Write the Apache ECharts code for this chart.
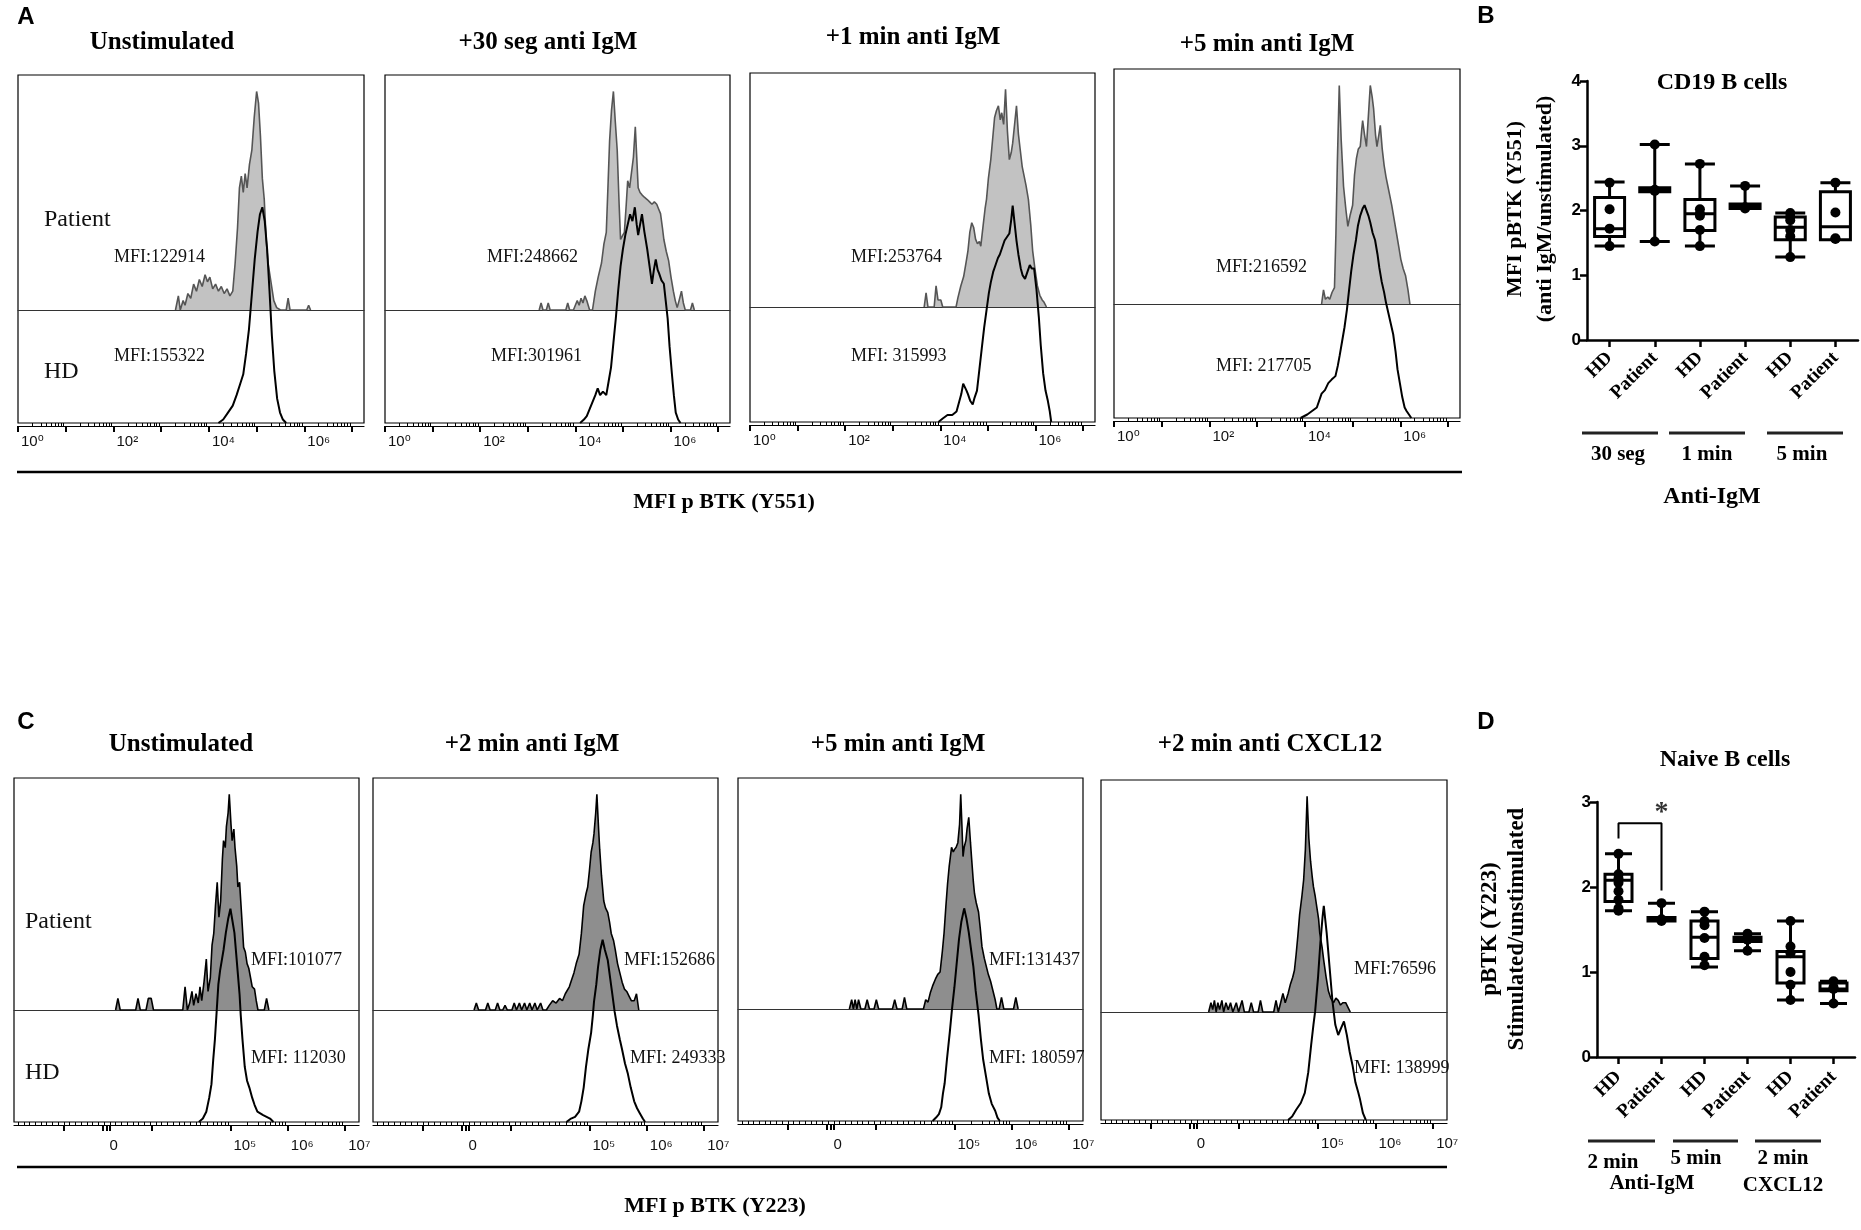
<!DOCTYPE html>
<html><head><meta charset="utf-8">
<script src="https://cdn.jsdelivr.net/npm/echarts@6/dist/echarts.min.js"></script>
<style>html,body{margin:0;padding:0;background:#fff}#c{width:1861px;height:1230px}</style>
</head><body><div id="c"></div>
<script>
// ---------------- DATA ----------------
// Panel A histograms: x = log10(MFI p BTK Y551), y = relative count (% of panel height)
const a1Patient=[[3.30,0],[3.36,6],[3.40,0],[3.46,4],[3.50,2],[3.56,7],[3.62,5],[3.68,11],[3.74,8],[3.80,13],[3.86,10],[3.92,15],[3.97,12],[4.02,14],[4.08,9],[4.14,11],[4.20,8],[4.26,10],[4.32,7],[4.38,9],[4.44,6],[4.50,8],[4.55,20],[4.60,35],[4.64,52],[4.68,57],[4.72,50],[4.76,58],[4.80,52],[4.85,62],[4.90,68],[4.95,82],[5.00,93],[5.04,88],[5.08,74],[5.12,56],[5.16,47],[5.20,30],[5.24,20],[5.30,12],[5.36,4],[5.42,1],[5.50,0],[5.62,0],[5.66,5],[5.70,0],[6.05,0],[6.09,2],[6.13,0]];
const a1HD=[[4.20,0],[4.30,1],[4.40,3],[4.50,5],[4.58,8],[4.65,11],[4.72,14],[4.78,20],[4.84,27],[4.90,37],[4.96,47],[5.02,55],[5.07,60],[5.12,62],[5.17,58],[5.22,50],[5.27,38],[5.32,25],[5.37,15],[5.43,7],[5.49,3],[5.55,1],[5.62,0]];
const a2Patient=[[3.24,0],[3.28,3],[3.32,0],[3.39,0],[3.43,3],[3.47,0],[3.80,0],[3.84,3],[3.88,0],[3.96,0],[4.00,2],[4.04,4],[4.08,2],[4.12,5],[4.16,3],[4.20,6],[4.24,4],[4.30,0],[4.36,0],[4.42,8],[4.48,14],[4.55,20],[4.60,28],[4.65,33],[4.69,55],[4.72,72],[4.76,85],[4.80,93],[4.84,80],[4.88,68],[4.92,45],[4.95,30],[5.00,32],[5.03,33],[5.07,45],[5.10,55],[5.14,52],[5.18,52],[5.22,65],[5.26,78],[5.29,65],[5.32,52],[5.36,50],[5.40,49],[5.45,48],[5.51,47],[5.56,46],[5.61,45],[5.66,46],[5.71,45],[5.75,43],[5.79,41],[5.83,35],[5.86,30],[5.91,25],[5.96,21],[6.01,14],[6.06,8],[6.10,4],[6.14,1],[6.18,4],[6.23,8],[6.27,3],[6.31,0],[6.42,0],[6.46,3],[6.50,0]];
const a2HD=[[4.10,0],[4.18,1],[4.24,2],[4.30,4],[4.36,6],[4.42,8],[4.47,10],[4.52,8],[4.58,9],[4.65,8],[4.70,12],[4.75,16],[4.80,23],[4.85,30],[4.90,38],[4.95,45],[5.00,50],[5.05,54],[5.10,57],[5.15,60],[5.20,58],[5.25,62],[5.29,57],[5.32,54],[5.36,57],[5.40,60],[5.45,55],[5.51,50],[5.56,45],[5.61,40],[5.65,44],[5.69,47],[5.73,44],[5.76,43],[5.81,41],[5.86,40],[5.90,35],[5.94,30],[5.98,22],[6.03,14],[6.07,8],[6.11,3],[6.16,1],[6.21,0]];
const a3Patient=[[3.66,0],[3.70,6],[3.74,0],[3.87,0],[3.91,9],[3.95,3],[4.01,3],[4.05,0],[4.33,0],[4.37,4],[4.43,9],[4.49,13],[4.54,19],[4.58,24],[4.62,32],[4.66,36],[4.70,34],[4.74,29],[4.78,27],[4.82,28],[4.85,26],[4.90,35],[4.94,42],[4.97,46],[5.01,55],[5.06,63],[5.10,72],[5.14,81],[5.18,84],[5.22,86],[5.26,80],[5.29,83],[5.33,78],[5.37,93],[5.41,75],[5.45,63],[5.49,66],[5.52,70],[5.56,78],[5.60,86],[5.64,74],[5.68,67],[5.72,60],[5.75,57],[5.80,52],[5.85,46],[5.90,35],[5.94,24],[5.99,16],[6.04,9],[6.09,5],[6.14,3],[6.18,2],[6.23,0]];
const a3HD=[[3.96,0],[4.05,1],[4.15,2],[4.25,2],[4.34,3],[4.40,6],[4.44,8],[4.48,11],[4.51,11],[4.55,9],[4.58,8],[4.63,6],[4.68,5],[4.72,7],[4.77,9],[4.82,15],[4.87,21],[4.92,27],[4.97,32],[5.02,37],[5.06,40],[5.11,43],[5.16,45],[5.21,47],[5.25,48],[5.30,50],[5.35,52],[5.40,53],[5.45,54],[5.49,58],[5.52,62],[5.56,57],[5.60,52],[5.64,48],[5.69,44],[5.73,42],[5.78,41],[5.83,43],[5.88,45],[5.92,44],[5.97,44],[6.02,38],[6.07,30],[6.11,22],[6.16,14],[6.21,9],[6.26,6],[6.30,3],[6.33,0]];
const a4Patient=[[4.35,0],[4.39,6],[4.43,2],[4.48,3],[4.52,2],[4.57,5],[4.62,7],[4.65,30],[4.68,60],[4.72,93],[4.76,70],[4.81,50],[4.86,40],[4.90,33],[4.95,38],[5.00,42],[5.04,55],[5.08,62],[5.12,66],[5.16,67],[5.19,74],[5.21,78],[5.25,72],[5.29,67],[5.33,80],[5.37,93],[5.41,88],[5.44,83],[5.48,72],[5.51,67],[5.55,72],[5.58,76],[5.62,66],[5.66,59],[5.70,54],[5.74,50],[5.78,46],[5.82,42],[5.87,36],[5.92,30],[5.97,24],[6.01,19],[6.06,15],[6.11,12],[6.16,6],[6.20,0]];
const a4HD=[[3.91,0],[4.05,1],[4.15,2],[4.25,3],[4.35,7],[4.42,8],[4.49,10],[4.56,11],[4.64,12],[4.69,15],[4.73,18],[4.78,22],[4.83,26],[4.88,31],[4.92,36],[4.97,42],[5.02,47],[5.07,51],[5.11,55],[5.16,58],[5.21,60],[5.25,61],[5.29,61],[5.33,58],[5.37,56],[5.42,53],[5.47,51],[5.52,47],[5.56,43],[5.61,39],[5.66,36],[5.70,33],[5.75,30],[5.80,27],[5.85,24],[5.90,19],[5.94,14],[5.99,10],[6.04,6],[6.09,3],[6.13,2],[6.18,1],[6.23,0]];
// Panel C histograms: x = biexponential display units (decades), y = relative count
const c1Patient=[[3.00,0],[3.04,5],[3.08,0],[3.35,0],[3.39,5],[3.43,0],[3.53,0],[3.57,5],[3.62,5],[3.66,0],[4.17,0],[4.21,10],[4.25,0],[4.29,3],[4.33,8],[4.36,2],[4.40,7],[4.44,3],[4.47,10],[4.50,4],[4.54,12],[4.58,22],[4.61,8],[4.65,14],[4.68,28],[4.71,33],[4.74,45],[4.77,55],[4.80,40],[4.83,47],[4.86,65],[4.88,73],[4.91,70],[4.93,79],[4.96,85],[4.98,93],[5.01,80],[5.03,73],[5.06,78],[5.08,70],[5.11,62],[5.13,53],[5.16,55],[5.18,47],[5.21,35],[5.23,27],[5.26,25],[5.29,20],[5.32,18],[5.35,14],[5.38,10],[5.42,9],[5.45,4],[5.48,0],[5.59,0],[5.63,5],[5.67,0]];
const c1HD=[[4.45,0],[4.52,1],[4.58,3],[4.63,7],[4.67,11],[4.70,18],[4.73,24],[4.76,32],[4.79,40],[4.82,44],[4.85,47],[4.88,50],[4.92,55],[4.96,59],[5.00,62],[5.04,58],[5.07,55],[5.10,49],[5.13,43],[5.16,37],[5.18,31],[5.21,24],[5.25,16],[5.29,12],[5.33,10],[5.38,7],[5.42,5],[5.47,3],[5.52,2.5],[5.57,2],[5.63,1.5],[5.69,1],[5.75,0]];
const c2Patient=[[2.99,0],[3.03,3],[3.07,0],[3.19,0],[3.23,3],[3.27,0],[3.36,0],[3.40,3],[3.44,0],[3.49,0],[3.53,2],[3.57,0],[3.65,0],[3.69,3],[3.73,0],[3.78,3],[3.82,0],[3.87,3],[3.91,0],[3.96,3],[4.00,0],[4.05,3],[4.09,0],[4.15,3],[4.19,0],[4.25,0],[4.30,2],[4.36,4],[4.42,3],[4.48,5],[4.53,4],[4.58,7],[4.65,10],[4.69,13],[4.73,16],[4.77,20],[4.82,24],[4.86,33],[4.90,45],[4.94,50],[4.97,53],[5.00,60],[5.03,68],[5.06,72],[5.08,76],[5.11,85],[5.13,93],[5.16,78],[5.18,69],[5.21,58],[5.25,47],[5.28,44],[5.32,42],[5.35,38],[5.38,33],[5.42,30],[5.45,26],[5.49,20],[5.53,16],[5.57,12],[5.61,9],[5.65,8],[5.69,6],[5.73,4],[5.78,4],[5.82,7],[5.86,0]];
const c2HD=[[4.60,0],[4.68,1],[4.75,1.5],[4.82,3],[4.86,6],[4.90,10],[4.94,16],[4.98,21],[5.03,26],[5.06,31],[5.08,35],[5.12,40],[5.15,45],[5.19,50],[5.23,53],[5.27,50],[5.32,47],[5.36,42],[5.40,37],[5.44,32],[5.48,28],[5.53,24],[5.57,21],[5.62,17],[5.67,14],[5.72,10],[5.78,6],[5.83,4],[5.88,2.5],[5.93,1],[5.97,0]];
const c3Patient=[[3.17,0],[3.21,4],[3.24,0],[3.27,4],[3.30,0],[3.33,4],[3.37,0],[3.44,0],[3.48,4],[3.52,0],[3.60,0],[3.64,4],[3.68,0],[3.92,0],[3.96,4],[4.00,0],[4.09,0],[4.13,5],[4.17,0],[4.46,0],[4.50,4],[4.54,3],[4.58,7],[4.62,10],[4.67,13],[4.71,15],[4.75,16],[4.79,25],[4.82,33],[4.85,44],[4.88,54],[4.91,62],[4.95,70],[4.98,68],[5.00,69],[5.03,70],[5.06,72],[5.09,80],[5.11,93],[5.13,80],[5.15,66],[5.17,70],[5.20,73],[5.22,78],[5.25,83],[5.28,72],[5.30,65],[5.33,55],[5.35,50],[5.38,46],[5.42,42],[5.45,35],[5.48,27],[5.52,22],[5.55,19],[5.59,15],[5.63,12],[5.67,8],[5.71,4],[5.74,0],[5.78,0],[5.82,5],[5.86,0],[6.03,0],[6.07,5],[6.11,0]];
const c3HD=[[4.62,0],[4.68,1],[4.73,2],[4.77,4],[4.80,8],[4.83,11],[4.87,18],[4.92,26],[4.96,33],[5.00,39],[5.04,46],[5.08,53],[5.12,58],[5.17,62],[5.21,59],[5.25,55],[5.29,50],[5.33,45],[5.37,38],[5.42,31],[5.46,24],[5.50,18],[5.55,13],[5.60,8],[5.65,5],[5.71,3],[5.75,1],[5.79,0]];
const c4Patient=[[3.10,0],[3.14,4],[3.17,1],[3.20,5],[3.23,0],[3.26,4],[3.29,1],[3.33,5],[3.36,0],[3.40,4],[3.44,1],[3.48,4],[3.52,0],[3.58,4],[3.62,0],[3.68,5],[3.72,0],[3.80,0],[3.84,4],[3.88,0],[3.96,0],[4.00,5],[4.04,0],[4.23,0],[4.27,5],[4.31,0],[4.35,4],[4.39,8],[4.43,4],[4.48,8],[4.52,12],[4.56,15],[4.59,18],[4.62,25],[4.65,33],[4.68,42],[4.72,50],[4.75,57],[4.78,70],[4.81,93],[4.84,75],[4.87,65],[4.90,58],[4.92,54],[4.95,50],[4.98,45],[5.01,40],[5.03,34],[5.07,28],[5.10,22],[5.14,15],[5.18,9],[5.22,6],[5.27,4],[5.31,6],[5.35,5],[5.39,3],[5.43,4],[5.48,4],[5.52,2],[5.56,0]];
const c4HD=[[4.48,0],[4.55,1],[4.62,3],[4.70,5],[4.77,8],[4.83,14],[4.88,22],[4.92,28],[4.95,32],[5.00,42],[5.04,52],[5.08,60],[5.10,63],[5.15,55],[5.20,45],[5.25,35],[5.30,28],[5.35,25],[5.40,27],[5.45,29],[5.50,25],[5.55,20],[5.60,16],[5.65,11],[5.70,8],[5.73,6],[5.78,2],[5.83,0]];

// Axis tick labels
const aTickValues=[0,2,4,6];
const aTickLabels=['10⁰','10²','10⁴','10⁶'];
const cTickValues=[2.84,5,6,7];
const cTickLabels=['0','10⁵','10⁶','10⁷'];

// Panel B: CD19 B cells, MFI pBTK (Y551) anti IgM / unstimulated
const bCategories=['HD','Patient','HD','Patient','HD','Patient'];
const bGroups=['30 seg','1 min','5 min'];
const bBoxes=[[1.45,1.60,1.72,2.20,2.44],[1.52,2.29,2.32,2.35,3.02],[1.45,1.69,1.95,2.17,2.72],[2.03,2.03,2.06,2.10,2.38],[1.28,1.55,1.74,1.90,1.96],[1.55,1.55,1.75,2.29,2.43]];
const bPoints=[[2.43,2.02,1.72,1.45],[3.02,2.32,2.30,1.52],[2.72,2.02,1.95,1.92,1.70,1.45],[2.38,2.05,2.03],[1.96,1.90,1.85,1.70,1.60,1.28],[2.43,1.97,1.57,1.56]];
// Panel D: Naive B cells, pBTK (Y223) stimulated / unstimulated
const dCategories=['HD','Patient','HD','Patient','HD','Patient'];
const dGroups=['2 min','5 min','2 min'];
const dBoxes=[[1.72,1.83,2.08,2.15,2.39],[1.60,1.60,1.62,1.64,1.81],[1.06,1.16,1.41,1.60,1.71],[1.25,1.36,1.38,1.41,1.45],[0.67,0.87,1.18,1.24,1.60],[0.63,0.78,0.80,0.87,0.89]];
const dPoints=[[2.39,2.15,2.10,2.05,1.95,1.85,1.75,1.72],[1.81,1.62,1.60],[1.71,1.60,1.55,1.40,1.18,1.08],[1.45,1.40,1.38,1.25],[1.60,1.30,1.22,1.00,0.85,0.67],[0.89,0.82,0.80,0.63]];
const dSignificance={from:0,to:1,leftEnd:2.57,top:2.75,rightEnd:1.96,label:'*'};

// ---------------- BUILD ----------------
const SERIF='"Liberation Serif","Times New Roman",serif';
const SANS='"Liberation Sans","DejaVu Sans",Arial,sans-serif';
const grids=[],xAxes=[],yAxes=[],series=[],graphics=[];

function tickLabel(list,vals){
  return function(v){
    for(let k=0;k<vals.length;k++){ if(Math.abs(vals[k]-v)<1e-6) return list[k]; }
    return '';
  };
}

function addHist(p){
  const gFull=grids.length;
  grids.push({left:p.left,top:p.top,width:p.width,height:p.height,show:true,borderColor:'#000',borderWidth:1.2});
  const gTop=grids.length;
  grids.push({left:p.left,top:p.top,width:p.width,height:p.divider-p.top,show:false});
  const xMaj=xAxes.length;
  xAxes.push({gridIndex:gFull,type:'value',min:p.xMin,max:p.xMax,position:'bottom',offset:3,
    axisLine:{show:true,onZero:false,lineStyle:{color:'#000',width:1.2}},
    axisTick:{show:true,customValues:p.majorTicks,length:6,inside:false,lineStyle:{color:'#000',width:2}},
    axisLabel:{show:true,customValues:p.labelValues,formatter:tickLabel(p.labelTexts,p.labelValues),margin:p.labelMargin,
      align:'left',padding:[0,0,0,3],fontSize:15,fontFamily:SANS,color:'#111'},
    splitLine:{show:false}});
  xAxes.push({gridIndex:gFull,type:'value',min:p.xMin,max:p.xMax,position:'bottom',offset:3,
    axisLine:{show:false},
    axisTick:{show:true,customValues:p.minorTicks,length:3,lineStyle:{color:'#000',width:1}},
    axisLabel:{show:false},splitLine:{show:false}});
  const xTop=xAxes.length;
  xAxes.push({gridIndex:gTop,type:'value',min:p.xMin,max:p.xMax,position:'bottom',
    axisLine:{show:true,onZero:false,lineStyle:{color:'#333',width:1.2}},
    axisTick:{show:false},axisLabel:{show:false},splitLine:{show:false}});
  const yFull=yAxes.length;
  yAxes.push({gridIndex:gFull,type:'value',min:0,max:100,show:false});
  const yTop=yAxes.length;
  yAxes.push({gridIndex:gTop,type:'value',min:0,max:100,show:false});
  series.push({name:p.name+' Patient',type:'line',xAxisIndex:xTop,yAxisIndex:yTop,data:p.patient,
    showSymbol:false,symbol:'none',lineStyle:{color:p.outline,width:1.6},areaStyle:{color:p.fill,opacity:1},z:2,silent:true});
  series.push({name:p.name+' HD',type:'line',xAxisIndex:xMaj,yAxisIndex:yFull,data:p.hd,
    showSymbol:false,symbol:'none',lineStyle:{color:'#000',width:2},z:3,silent:true});
  // texts
  graphics.push({type:'text',x:p.titleX,y:p.titleY,style:{text:p.title,font:'bold 25px '+SERIF,fill:'#000',align:'center',verticalAlign:'middle'}});
  graphics.push({type:'text',x:p.mfiX,y:p.mfiPY,style:{text:p.mfiP,font:'18px '+SERIF,fill:'#111',align:'left',verticalAlign:'middle'}});
  graphics.push({type:'text',x:p.mfiX2||p.mfiX,y:p.mfiHY,style:{text:p.mfiH,font:'18px '+SERIF,fill:'#111',align:'left',verticalAlign:'middle'}});
  if(p.rowLabels){
    graphics.push({type:'text',x:p.left+p.rowX,y:p.patY,style:{text:'Patient',font:'24px '+SERIF,fill:'#111',align:'left',verticalAlign:'middle'}});
    graphics.push({type:'text',x:p.left+p.rowX,y:p.hdY,style:{text:'HD',font:'24px '+SERIF,fill:'#111',align:'left',verticalAlign:'middle'}});
  }
}

// tick positions (axis decoration)
const aMajor=[0,1,2,3,4,5,6,7];
const aMinor=[];
for(let d=0;d<8;d++){for(let k=2;k<10;k++){const v=d+Math.log10(k); if(v<7.25) aMinor.push(v);}}
const cMajor=[2.10,2.78,2.84,2.90,3.63,5,6,7];
const cMinor=[];
for(let v=1.3;v<4.45;v+=0.1) cMinor.push(+v.toFixed(2));
for(let d=4;d<7;d++){for(let k=2;k<10;k++){const v=d+Math.log10(k); if(v>4.45) cMinor.push(v);}}

const aCommon={xMin:0,xMax:7.25,majorTicks:aMajor,minorTicks:aMinor,labelValues:aTickValues,labelTexts:aTickLabels,labelMargin:8,fill:'#c2c2c2',outline:'#555'};
const cCommon={xMin:1.23,xMax:7.24,majorTicks:cMajor,minorTicks:cMinor,labelValues:cTickValues,labelTexts:cTickLabels,labelMargin:13,fill:'#8e8e8e',outline:'#000'};

addHist(Object.assign({},aCommon,{name:'A1',left:18,top:75,width:346,height:348,divider:310,patient:a1Patient,hd:a1HD,
  title:'Unstimulated',titleX:162,titleY:43,mfiP:'MFI:122914',mfiH:'MFI:155322',mfiX:114,mfiPY:257,mfiHY:356,rowLabels:true,rowX:26,patY:220,hdY:372}));
addHist(Object.assign({},aCommon,{name:'A2',left:385,top:75,width:345,height:348,divider:310,patient:a2Patient,hd:a2HD,
  title:'+30 seg anti IgM',titleX:548,titleY:43,mfiP:'MFI:248662',mfiH:'MFI:301961',mfiX:487,mfiX2:491,mfiPY:257,mfiHY:356}));
addHist(Object.assign({},aCommon,{name:'A3',left:750,top:73,width:345,height:349,divider:307,patient:a3Patient,hd:a3HD,
  title:'+1 min anti IgM',titleX:913,titleY:38,mfiP:'MFI:253764',mfiH:'MFI: 315993',mfiX:851,mfiPY:257,mfiHY:356}));
addHist(Object.assign({},aCommon,{name:'A4',left:1114,top:69,width:346,height:349,divider:304,patient:a4Patient,hd:a4HD,
  title:'+5 min anti IgM',titleX:1267,titleY:45,mfiP:'MFI:216592',mfiH:'MFI: 217705',mfiX:1216,mfiPY:267,mfiHY:366}));

addHist(Object.assign({},cCommon,{name:'C1',left:14,top:778,width:345,height:344,divider:1010,patient:c1Patient,hd:c1HD,
  title:'Unstimulated',titleX:181,titleY:745,mfiP:'MFI:101077',mfiH:'MFI: 112030',mfiX:251,mfiPY:960,mfiHY:1058,rowLabels:true,rowX:11,patY:922,hdY:1073}));
addHist(Object.assign({},cCommon,{name:'C2',left:373,top:778,width:345,height:344,divider:1010,patient:c2Patient,hd:c2HD,
  title:'+2 min anti IgM',titleX:532,titleY:745,mfiP:'MFI:152686',mfiH:'MFI: 249333',mfiX:624,mfiX2:630,mfiPY:960,mfiHY:1058}));
addHist(Object.assign({},cCommon,{name:'C3',left:738,top:778,width:345,height:343,divider:1009,patient:c3Patient,hd:c3HD,
  title:'+5 min anti IgM',titleX:898,titleY:745,mfiP:'MFI:131437',mfiH:'MFI: 180597',mfiX:989,mfiPY:960,mfiHY:1058}));
addHist(Object.assign({},cCommon,{name:'C4',left:1101,top:780,width:346,height:340,divider:1012,patient:c4Patient,hd:c4HD,
  title:'+2 min anti CXCL12',titleX:1270,titleY:745,mfiP:'MFI:76596',mfiH:'MFI: 138999',mfiX:1354,mfiPY:969,mfiHY:1068}));

// ---- box plot panels ----
function addBox(p){
  const g=grids.length;
  grids.push({left:p.left,top:p.top,width:p.width,height:p.height,show:false});
  const xi=xAxes.length;
  xAxes.push({gridIndex:g,type:'category',data:p.categories,boundaryGap:true,
    axisLine:{show:true,lineStyle:{color:'#000',width:2.5}},
    axisTick:{show:true,alignWithLabel:true,length:7,lineStyle:{color:'#000',width:2.5}},
    axisLabel:{interval:0,rotate:45,margin:p.labelMargin,color:'#000',fontFamily:SERIF,fontWeight:'bold',fontSize:19},
    splitLine:{show:false}});
  const yi=yAxes.length;
  yAxes.push({gridIndex:g,type:'value',min:0,max:p.yMax,interval:1,
    axisLine:{show:true,lineStyle:{color:'#000',width:2.5}},
    axisTick:{show:true,length:7,lineStyle:{color:'#000',width:2.5}},
    axisLabel:{color:'#000',fontFamily:SANS,fontWeight:'bold',fontSize:17,margin:6},
    splitLine:{show:false}});
  series.push({name:p.name+' box',type:'boxplot',xAxisIndex:xi,yAxisIndex:yi,data:p.boxes,boxWidth:[p.boxWidth,p.boxWidth],
    itemStyle:{color:'#fff',borderColor:'#000',borderWidth:3},z:2,silent:true});
  const pts=[];
  p.points.forEach((arr,i)=>arr.forEach(v=>pts.push([i,v])));
  series.push({name:p.name+' points',type:'scatter',xAxisIndex:xi,yAxisIndex:yi,data:pts,symbol:'circle',symbolSize:10,
    itemStyle:{color:'#000',opacity:1},z:4,silent:true});
  return {xi,yi};
}
addBox({name:'B',left:1587,top:81,width:271,height:259,yMax:4,categories:bCategories,boxes:bBoxes,points:bPoints,boxWidth:30,labelMargin:15});
const dAx=addBox({name:'D',left:1597,top:802,width:258,height:255,yMax:3,categories:dCategories,boxes:dBoxes,points:dPoints,boxWidth:27,labelMargin:17});
const s=dSignificance;
series.push({name:'significance',type:'line',xAxisIndex:dAx.xi,yAxisIndex:dAx.yi,
  data:[[s.from,s.leftEnd],[s.from,s.top],[s.to,s.top],[s.to,s.rightEnd]],
  symbol:'none',lineStyle:{color:'#000',width:2},z:5,silent:true});
series.push({name:'star',type:'scatter',xAxisIndex:dAx.xi,yAxisIndex:dAx.yi,
  data:[[(s.from+s.to)/2,s.top+0.12]],symbolSize:1,itemStyle:{color:'rgba(0,0,0,0)'},
  label:{show:true,position:'inside',formatter:s.label,fontFamily:SERIF,fontWeight:'bold',fontSize:28,color:'#000'},z:5,silent:true});

// ---- annotations ----
function txt(x,y,t,font,align,rot){
  const o={type:'text',x:x,y:y,style:{text:t,font:font,fill:'#000',align:align||'center',verticalAlign:'middle'}};
  if(rot) o.rotation=rot;
  graphics.push(o);
}
function hline(x1,x2,y,w,c){graphics.push({type:'line',shape:{x1:x1,y1:y,x2:x2,y2:y},style:{stroke:c||'#000',lineWidth:w}});}
// panel letters
txt(26,17,'A','bold 24px '+SANS);
txt(1486,16,'B','bold 24px '+SANS);
txt(26,722,'C','bold 24px '+SANS);
txt(1486,722,'D','bold 24px '+SANS);
// A and C shared axis titles
hline(17,1462,472,2.5);
txt(724,502,'MFI p BTK (Y551)','bold 22px '+SERIF);
hline(17,1447,1167,2.5);
txt(715,1206,'MFI p BTK (Y223)','bold 22px '+SERIF);
// B annotations
txt(1722,83,'CD19 B cells','bold 24px '+SERIF);
txt(1515,209,'MFI pBTK (Y551)','bold 22px '+SERIF,'center',Math.PI/2);
txt(1545,209,'(anti IgM/unstimulated)','bold 22px '+SERIF,'center',Math.PI/2);
hline(1582,1658,433,3,'#222'); hline(1669,1745,433,3,'#222'); hline(1767,1843,433,3,'#222');
txt(1618,455,bGroups[0],'bold 21px '+SERIF);
txt(1707,455,bGroups[1],'bold 21px '+SERIF);
txt(1802,455,bGroups[2],'bold 21px '+SERIF);
txt(1712,497,'Anti-IgM','bold 24px '+SERIF);
// D annotations
txt(1725,760,'Naive B cells','bold 24px '+SERIF);
txt(1490,929,'pBTK (Y223)','bold 23px '+SERIF,'center',Math.PI/2);
txt(1517,929,'Stimulated/unstimulated','bold 23px '+SERIF,'center',Math.PI/2);
hline(1588,1655,1141,3,'#222'); hline(1673,1738,1141,3,'#222'); hline(1755,1821,1141,3,'#222');
txt(1613,1163,dGroups[0],'bold 21px '+SERIF);
txt(1696,1159,dGroups[1],'bold 21px '+SERIF);
txt(1783,1159,dGroups[2],'bold 21px '+SERIF);
txt(1652,1184,'Anti-IgM','bold 21px '+SERIF);
txt(1783,1186,'CXCL12','bold 21px '+SERIF);

const chart=echarts.init(document.getElementById('c'),null,{renderer:'canvas'});
chart.setOption({
  backgroundColor:'#fff',animation:false,
  textStyle:{fontFamily:SERIF},
  grid:grids,xAxis:xAxes,yAxis:yAxes,series:series,graphic:graphics
});
</script></body></html>
